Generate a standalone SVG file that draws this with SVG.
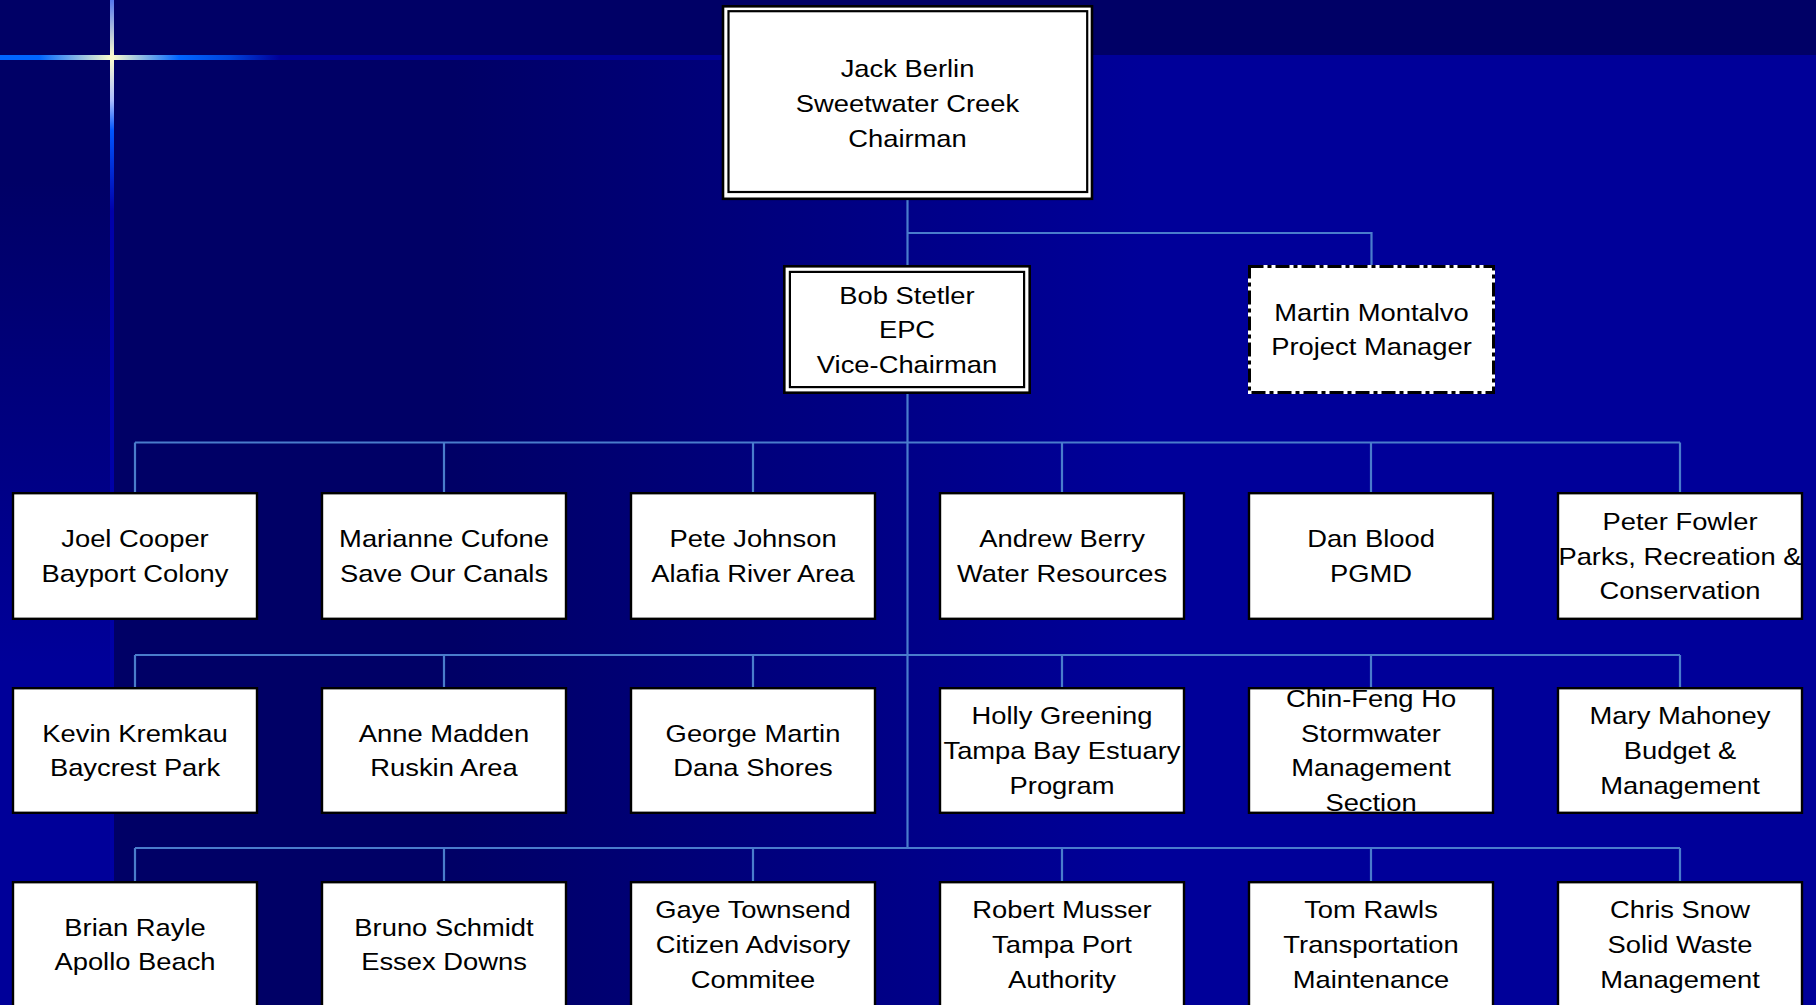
<svg xmlns="http://www.w3.org/2000/svg" width="1816" height="1005" viewBox="0 0 1816 1005">
<defs>
<linearGradient id="bgMain" gradientUnits="userSpaceOnUse" x1="0" y1="0" x2="1816" y2="0">
<stop offset="0" stop-color="#000066"/>
<stop offset="0.25" stop-color="#000066"/>
<stop offset="0.63" stop-color="#000099"/>
<stop offset="1" stop-color="#000099"/>
</linearGradient>
<linearGradient id="bgLeft" gradientUnits="userSpaceOnUse" x1="0" y1="0" x2="0" y2="1005">
<stop offset="0" stop-color="#000066"/>
<stop offset="0.18" stop-color="#000066"/>
<stop offset="0.66" stop-color="#000099"/>
<stop offset="1" stop-color="#000099"/>
</linearGradient>
<linearGradient id="hGlow" gradientUnits="userSpaceOnUse" x1="0" y1="0" x2="280" y2="0">
<stop offset="0" stop-color="#0066ff"/>
<stop offset="0.14" stop-color="#0066ff"/>
<stop offset="0.4" stop-color="#ffffcc"/>
<stop offset="0.64" stop-color="#0066ff"/>
<stop offset="0.82" stop-color="#0044dd"/>
<stop offset="1" stop-color="#000099"/>
</linearGradient>
<linearGradient id="vGlow" gradientUnits="userSpaceOnUse" x1="0" y1="0" x2="0" y2="1005">
<stop offset="0" stop-color="#5577ee"/>
<stop offset="0.057" stop-color="#ffffcc"/>
<stop offset="0.1" stop-color="#aabbff"/>
<stop offset="0.13" stop-color="#0055ff"/>
<stop offset="0.21" stop-color="#0000aa"/>
<stop offset="1" stop-color="#0000a0"/>
</linearGradient>
<style>
.box{fill:#ffffff;stroke:#000000;stroke-width:2.4}
.outer{fill:#ffffff;stroke:#000000;stroke-width:2.6}
.inner{fill:none;stroke:#000000;stroke-width:2.2}
.dash{fill:none;stroke:#000000;stroke-width:3;stroke-dasharray:14 4 4 4}
.t{font-family:"Liberation Sans",Arial,Helvetica,sans-serif;font-size:24px;text-anchor:middle;fill:#000000}
.conn{fill:none;stroke:#4a7ccc;stroke-width:2.2}
</style>
</defs>

<g id="background">
<rect x="0" y="0" width="1816" height="1005" fill="url(#bgMain)"/>
<rect x="0" y="58" width="112" height="947" fill="url(#bgLeft)"/>
<rect x="0" y="0" width="1816" height="57" fill="#000066"/>
<rect x="0" y="55" width="1816" height="5" fill="#000099"/>
<rect x="0" y="55" width="280" height="5" fill="url(#hGlow)"/>
<rect x="110" y="0" width="4" height="1005" fill="url(#vGlow)"/>
</g>

<g id="connectors">
<path class="conn" d="M907.5,200 V265"/>
<path class="conn" d="M907.5,233 H1371.5 V265"/>
<path class="conn" d="M907.5,394 V848"/>
<path class="conn" d="M135,442.5 H1680"/>
<path class="conn" d="M135,442.5 V492 M444,442.5 V492 M753,442.5 V492 M1062,442.5 V492 M1371,442.5 V492 M1680,442.5 V492"/>
<path class="conn" d="M135,655 H1680"/>
<path class="conn" d="M135,655 V687 M444,655 V687 M753,655 V687 M1062,655 V687 M1371,655 V687 M1680,655 V687"/>
<path class="conn" d="M135,848 H1680"/>
<path class="conn" d="M135,848 V881 M444,848 V881 M753,848 V881 M1062,848 V881 M1371,848 V881 M1680,848 V881"/>
</g>

<g id="node-jack-berlin">
<rect class="outer" x="723" y="6.3" width="369" height="192.5"/>
<rect class="inner" x="728.5" y="11.2" width="358.7" height="180.8"/>
<text class="t" transform="translate(907.5 0) scale(1.14 1)"><tspan x="0" y="77.5">Jack Berlin</tspan><tspan x="0" y="112.5">Sweetwater Creek</tspan><tspan x="0" y="147.5">Chairman</tspan></text>
</g>

<g id="node-bob-stetler">
<rect class="outer" x="784.3" y="266.3" width="245.4" height="126.4"/>
<rect class="inner" x="789.9" y="271.9" width="234.2" height="115.2"/>
<text class="t" transform="translate(907 0) scale(1.14 1)"><tspan x="0" y="304">Bob Stetler</tspan><tspan x="0" y="338.5">EPC</tspan><tspan x="0" y="373">Vice-Chairman</tspan></text>
</g>

<g id="node-martin-montalvo">
<rect x="1248" y="265" width="247" height="129" fill="#ffffff"/>
<rect class="dash" x="1249.5" y="266.5" width="244" height="126"/>
<text class="t" transform="translate(1371.5 0) scale(1.14 1)"><tspan x="0" y="321">Martin Montalvo</tspan><tspan x="0" y="355.5">Project Manager</tspan></text>
</g>

<g id="node-joel-cooper">
<rect class="box" x="13" y="493.2" width="244" height="125.6"/>
<text class="t" transform="translate(135 0) scale(1.14 1)"><tspan x="0" y="547">Joel Cooper</tspan><tspan x="0" y="582">Bayport Colony</tspan></text>
</g>
<g id="node-marianne-cufone">
<rect class="box" x="322" y="493.2" width="244" height="125.6"/>
<text class="t" transform="translate(444 0) scale(1.14 1)"><tspan x="0" y="547">Marianne Cufone</tspan><tspan x="0" y="582">Save Our Canals</tspan></text>
</g>
<g id="node-pete-johnson">
<rect class="box" x="631" y="493.2" width="244" height="125.6"/>
<text class="t" transform="translate(753 0) scale(1.14 1)"><tspan x="0" y="547">Pete Johnson</tspan><tspan x="0" y="582">Alafia River Area</tspan></text>
</g>
<g id="node-andrew-berry">
<rect class="box" x="940" y="493.2" width="244" height="125.6"/>
<text class="t" transform="translate(1062 0) scale(1.14 1)"><tspan x="0" y="547">Andrew Berry</tspan><tspan x="0" y="582">Water Resources</tspan></text>
</g>
<g id="node-dan-blood">
<rect class="box" x="1249" y="493.2" width="244" height="125.6"/>
<text class="t" transform="translate(1371 0) scale(1.14 1)"><tspan x="0" y="547">Dan Blood</tspan><tspan x="0" y="582">PGMD</tspan></text>
</g>
<g id="node-peter-fowler">
<rect class="box" x="1558" y="493.2" width="244" height="125.6"/>
<text class="t" transform="translate(1680 0) scale(1.14 1)"><tspan x="0" y="530">Peter Fowler</tspan><tspan x="0" y="564.6">Parks, Recreation &amp;</tspan><tspan x="0" y="599.3">Conservation</tspan></text>
</g>

<g id="node-kevin-kremkau">
<rect class="box" x="13" y="688.2" width="244" height="124.6"/>
<text class="t" transform="translate(135 0) scale(1.14 1)"><tspan x="0" y="742">Kevin Kremkau</tspan><tspan x="0" y="776.5">Baycrest Park</tspan></text>
</g>
<g id="node-anne-madden">
<rect class="box" x="322" y="688.2" width="244" height="124.6"/>
<text class="t" transform="translate(444 0) scale(1.14 1)"><tspan x="0" y="742">Anne Madden</tspan><tspan x="0" y="776.5">Ruskin Area</tspan></text>
</g>
<g id="node-george-martin">
<rect class="box" x="631" y="688.2" width="244" height="124.6"/>
<text class="t" transform="translate(753 0) scale(1.14 1)"><tspan x="0" y="742">George Martin</tspan><tspan x="0" y="776.5">Dana Shores</tspan></text>
</g>
<g id="node-holly-greening">
<rect class="box" x="940" y="688.2" width="244" height="124.6"/>
<text class="t" transform="translate(1062 0) scale(1.14 1)"><tspan x="0" y="724.4">Holly Greening</tspan><tspan x="0" y="759.1">Tampa Bay Estuary</tspan><tspan x="0" y="793.8">Program</tspan></text>
</g>
<g id="node-chin-feng-ho">
<rect class="box" x="1249" y="688.2" width="244" height="124.6"/>
<text class="t" transform="translate(1371 0) scale(1.14 1)"><tspan x="0" y="707">Chin-Feng Ho</tspan><tspan x="0" y="741.7">Stormwater</tspan><tspan x="0" y="776.4">Management</tspan><tspan x="0" y="811.1">Section</tspan></text>
</g>
<g id="node-mary-mahoney">
<rect class="box" x="1558" y="688.2" width="244" height="124.6"/>
<text class="t" transform="translate(1680 0) scale(1.14 1)"><tspan x="0" y="724.4">Mary Mahoney</tspan><tspan x="0" y="759.1">Budget &amp;</tspan><tspan x="0" y="793.8">Management</tspan></text>
</g>

<g id="node-brian-rayle">
<rect class="box" x="13" y="882.2" width="244" height="126"/>
<text class="t" transform="translate(135 0) scale(1.14 1)"><tspan x="0" y="936">Brian Rayle</tspan><tspan x="0" y="970.5">Apollo Beach</tspan></text>
</g>
<g id="node-bruno-schmidt">
<rect class="box" x="322" y="882.2" width="244" height="126"/>
<text class="t" transform="translate(444 0) scale(1.14 1)"><tspan x="0" y="936">Bruno Schmidt</tspan><tspan x="0" y="970.5">Essex Downs</tspan></text>
</g>
<g id="node-gaye-townsend">
<rect class="box" x="631" y="882.2" width="244" height="126"/>
<text class="t" transform="translate(753 0) scale(1.14 1)"><tspan x="0" y="918.4">Gaye Townsend</tspan><tspan x="0" y="953.1">Citizen Advisory</tspan><tspan x="0" y="987.8">Commitee</tspan></text>
</g>
<g id="node-robert-musser">
<rect class="box" x="940" y="882.2" width="244" height="126"/>
<text class="t" transform="translate(1062 0) scale(1.14 1)"><tspan x="0" y="918.4">Robert Musser</tspan><tspan x="0" y="953.1">Tampa Port</tspan><tspan x="0" y="987.8">Authority</tspan></text>
</g>
<g id="node-tom-rawls">
<rect class="box" x="1249" y="882.2" width="244" height="126"/>
<text class="t" transform="translate(1371 0) scale(1.14 1)"><tspan x="0" y="918.4">Tom Rawls</tspan><tspan x="0" y="953.1">Transportation</tspan><tspan x="0" y="987.8">Maintenance</tspan></text>
</g>
<g id="node-chris-snow">
<rect class="box" x="1558" y="882.2" width="244" height="126"/>
<text class="t" transform="translate(1680 0) scale(1.14 1)"><tspan x="0" y="918.4">Chris Snow</tspan><tspan x="0" y="953.1">Solid Waste</tspan><tspan x="0" y="987.8">Management</tspan></text>
</g>
</svg>
